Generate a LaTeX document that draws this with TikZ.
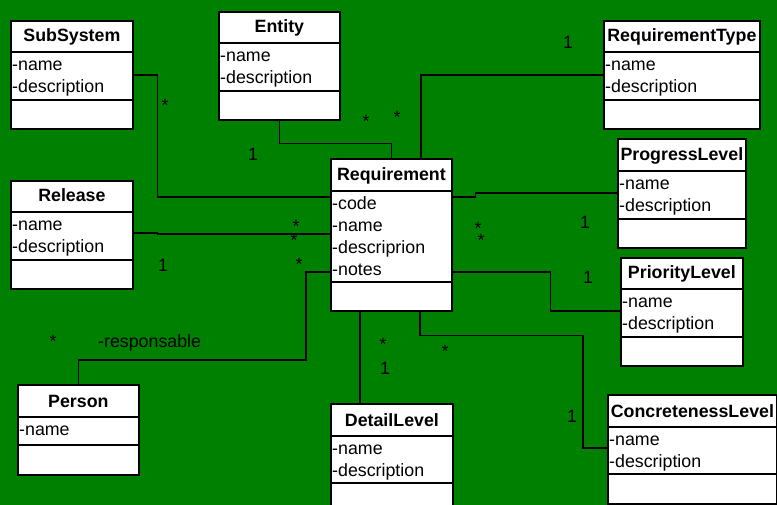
\documentclass[tikz,border=0pt]{standalone}
\usepackage{fontspec}
\setmainfont{Liberation Sans}
\usetikzlibrary{calc}

\definecolor{bggreen}{RGB}{0,128,0}

\tikzset{
  classbox/.style={draw=black, fill=white, line width=1.8pt, anchor=north west, inner sep=0pt},
  classline/.style={draw=black, line width=1.8pt},
  titletext/.style={anchor=base, inner sep=0pt, font=\fontsize{17.8}{21}\selectfont\bfseries},
  attrtext/.style={anchor=base west, inner sep=0pt, font=\fontsize{17.8}{21}\selectfont},
  assoc/.style={draw=black, line width=1.2pt},
  mult/.style={anchor=base, inner sep=0pt, font=\fontsize{17.8}{21}\selectfont},
}

% #1 name, #2 left, #3 top, #4 width, #5 header height,
% #6 attribute height, #7 total height, #8 title, #9 attributes
\newcommand\umlclass[9]{%
  \node[classbox, minimum width=#4pt, minimum height=#7pt] (#1) at (#2,#3) {};
  \draw[classline] ($(#1.north west)+(0,#5)$) -- ($(#1.north east)+(0,#5)$);
  \draw[classline] ($(#1.north west)+(0,{#5+#6})$) -- ($(#1.north east)+(0,{#5+#6})$);
  \node[titletext] (#1-t) at ($(#1.north)+(0,{#5-10})$) {#8};
  \foreach \attrtxt [count=\attrno] in {#9} {
    \node[attrtext] (#1-a\attrno) at ($(#1.north west)+(2,{#5+18.5+22*(\attrno-1)})$) {\attrtxt};
  }
}

\begin{document}
\begin{tikzpicture}[x=1pt, y=-1pt]
  \useasboundingbox (0,0) rectangle (777,505);
  \clip (0,0) rectangle (777,505);
  \fill[bggreen] (0,0) rectangle (777,505);

  % classes
  \umlclass{sub}{10}{20}{122}{32}{48}{108}{SubSystem}{-name,-description}
  \umlclass{ent}{218}{11}{121}{32}{48}{108}{Entity}{-name,-description}
  \umlclass{rtype}{603}{20}{156}{32}{48}{108}{RequirementType}{-name,-description}
  \umlclass{prog}{617}{138}{128}{33}{48}{109}{ProgressLevel}{-name,-description}
  \umlclass{req}{330}{158}{121}{33}{91}{152}{Requirement}{-code,-name,-descriprion,-notes}
  \umlclass{prio}{620}{257}{122}{32}{48}{108}{PriorityLevel}{-name,-description}
  \umlclass{conc}{607}{394}{169}{33}{47}{109}{ConcretenessLevel}{-name,-description}
  \umlclass{rel}{10}{180}{122}{32}{48}{108}{Release}{-name,-description}
  \umlclass{per}{17}{384}{121}{33}{28}{90}{Person}{-name}
  \umlclass{det}{330}{403}{122}{33}{47}{108}{DetailLevel}{-name,-description}

  % associations
  \draw[assoc] ($(sub.north east)+(0,55)$) -- ++(24,0) |- ($(req.north west)+(0,39)$);
  \draw[assoc] (ent.south) -- ++(0,23) -| (req.north);
  \draw[assoc] ($(req.north west)+(91,0)$) |- ($(rtype.north west)+(0,55)$);
  \draw[assoc] ($(req.north east)+(0,39)$) -- ++(23,0) |- ($(prog.north west)+(0,55)$);
  \draw[assoc] ($(req.north east)+(0,114)$) -- ++(98,0) |- ($(prio.north west)+(0,54)$);
  \draw[assoc] ($(req.south west)+(90,0)$) -- ++(0,24) -- ++(163,0) |- ($(conc.north west)+(0,54)$);
  \draw[assoc] ($(req.south west)+(30,0)$) -- ($(det.north west)+(30,0)$);
  \draw[assoc] ($(req.north west)+(0,114)$) -- ++(-24,0) -- ++(0,88) -| (per.north);
  \draw[assoc] ($(rel.north east)+(0,53)$) -- ++(24,0) |- ($(req.north west)+(0,76)$);

  % multiplicities and role names
  \node[mult] (m1) at (165,112) {*};
  \node[mult] (m2) at (253,161) {1};
  \node[mult] (m3) at (366,128) {*};
  \node[mult] (m4) at (397,124) {*};
  \node[mult] (m5) at (568,49) {1};
  \node[mult] (m6) at (478,235) {*};
  \node[mult] (m7) at (481,247) {*};
  \node[mult] (m8) at (585,229) {1};
  \node[mult] (m9) at (588,284) {1};
  \node[mult] (m10) at (445,357) {*};
  \node[mult] (m11) at (572,422) {1};
  \node[mult] (m12) at (383,350) {*};
  \node[mult] (m13) at (385,374) {1};
  \node[mult] (m14) at (53,348) {*};
  \node[mult] (m15) at (299,271) {*};
  \node[mult] (m16) at (296,233) {*};
  \node[mult] (m17) at (294,247) {*};
  \node[mult] (m18) at (163,272) {1};
  \node[attrtext] (role) at (98,347) {-responsable};
\end{tikzpicture}
\end{document}
